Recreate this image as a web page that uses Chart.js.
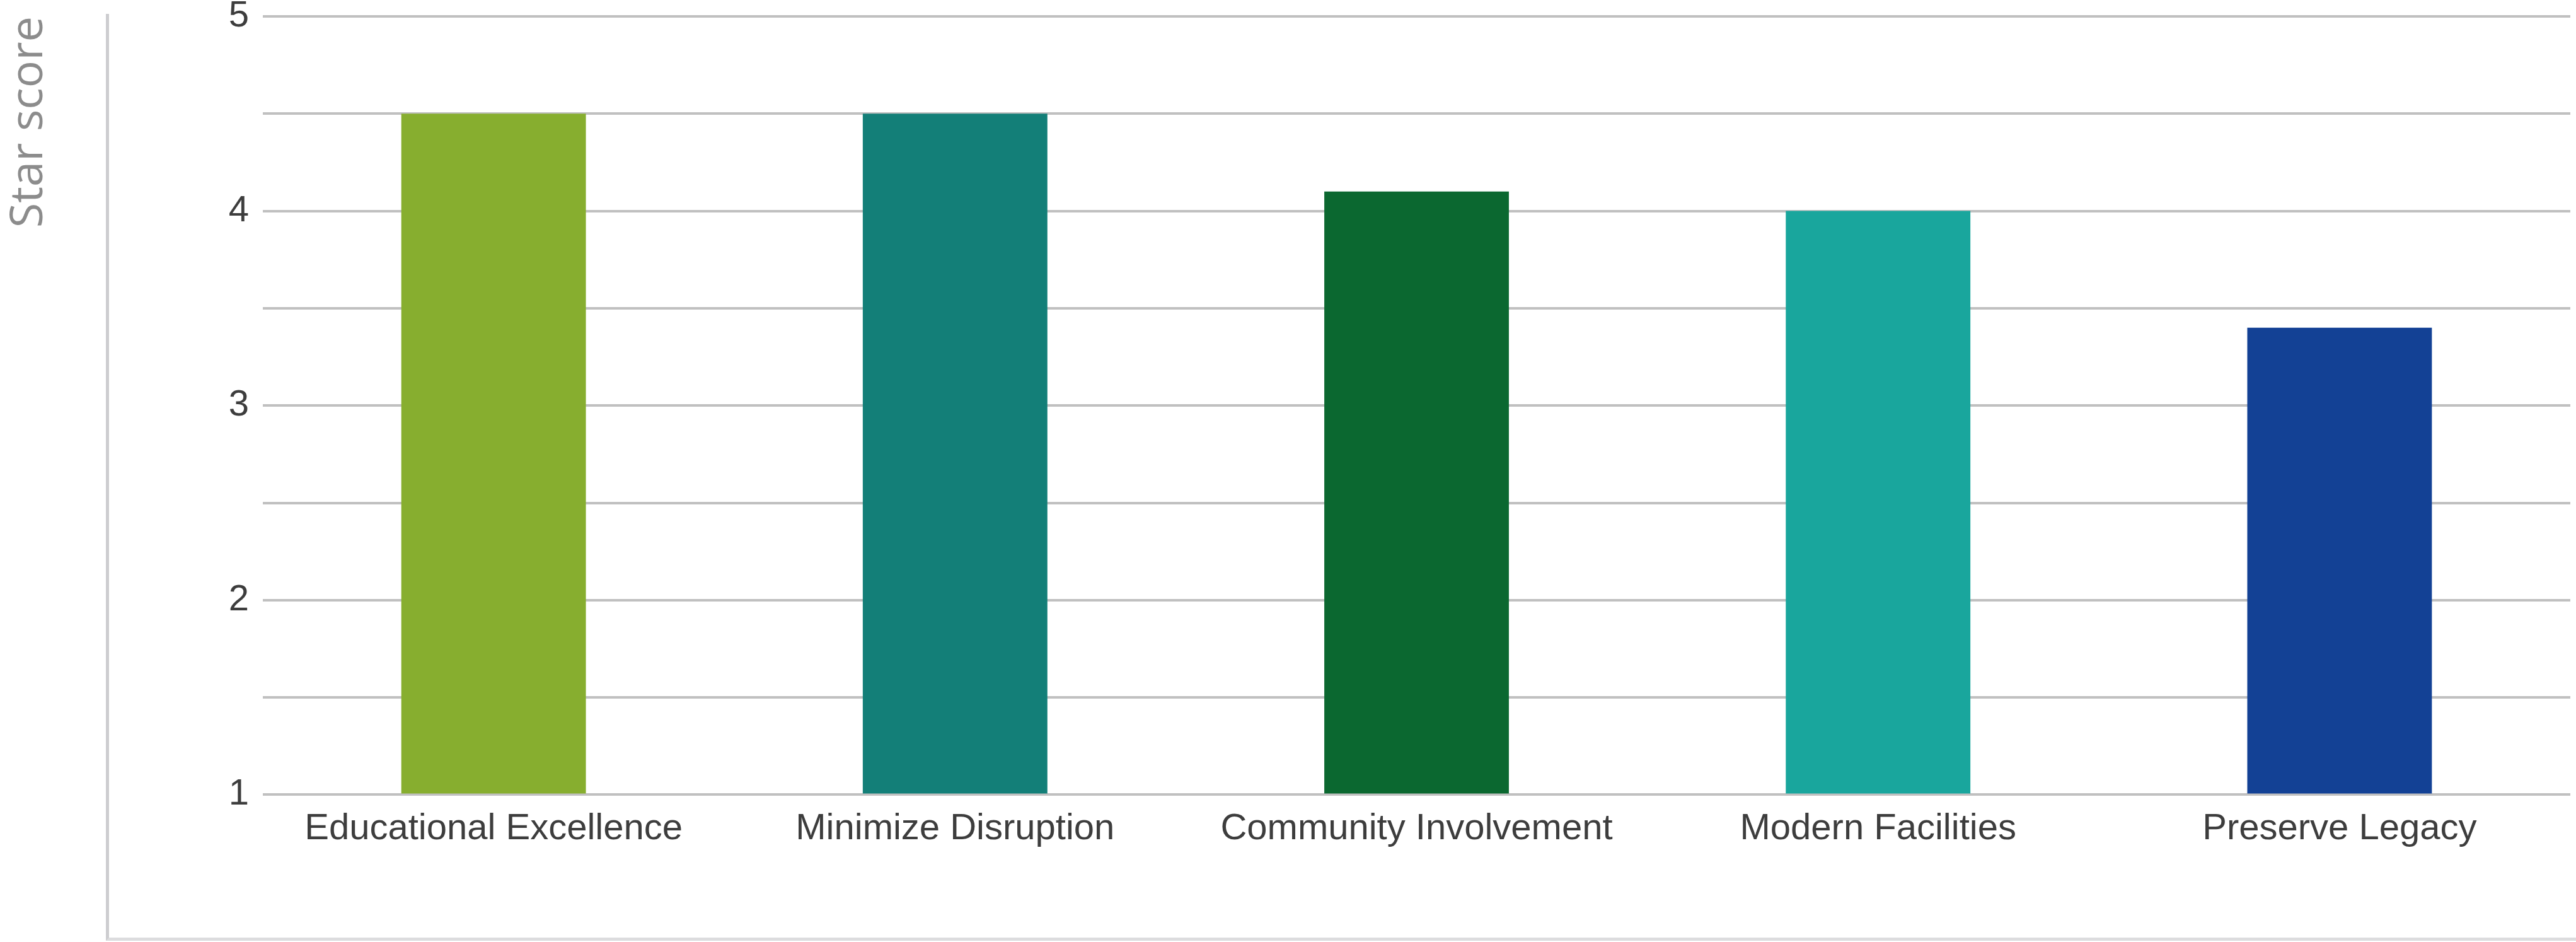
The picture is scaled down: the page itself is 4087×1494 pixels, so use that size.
<!DOCTYPE html>
<html>
<head>
<meta charset="utf-8">
<script src="https://cdn.jsdelivr.net/npm/chart.js@4/dist/chart.umd.min.js"></script>
<style>
  html, body { margin: 0; padding: 0; background: #fff; }
  #wrap { position: relative; width: 4087px; height: 1494px; overflow: hidden; }
  #frame {
    position: absolute; left: 168px; top: 22px; right: 0; bottom: 2px;
    border-left: 5px solid #cdcdd0; border-bottom: 5px solid #dcdcde;
  }
  #chart { position: absolute; left: 0; top: 0; }
</style>
</head>
<body>
<div id="wrap">
  <div id="frame"></div>
  <canvas id="chart" width="4087" height="1494"></canvas>
</div>
<script>
const categories = [
  'Educational Excellence',
  'Minimize Disruption',
  'Community Involvement',
  'Modern Facilities',
  'Preserve Legacy'
];
const scores = [4.5, 4.5, 4.1, 4.0, 3.4];
const barColors = ['#87ae2f', '#137f78', '#0b6830', '#19a69d', '#134195'];
const yTickLabels = [1, 2, 3, 4, 5];
const yTitle = 'Star score';

const ctx = document.getElementById('chart').getContext('2d');

new Chart(ctx, {
  type: 'bar',
  data: {
    labels: categories,
    datasets: [{
      data: scores,
      base: 1,
      backgroundColor: barColors,
      borderWidth: 0,
      categoryPercentage: 1,
      barPercentage: 0.4
    }]
  },
  options: {
    responsive: false,
    animation: false,
    devicePixelRatio: 1,
    layout: { padding: { top: 26, right: 9, bottom: 124, left: 0 } },
    plugins: {
      legend: { display: false },
      tooltip: { enabled: false }
    },
    scales: {
      x: {
        grid: { display: false, drawTicks: false },
        border: { display: false },
        ticks: {
          color: '#3d3d3d',
          padding: 20,
          maxRotation: 0,
          font: { family: 'Liberation Sans, Arial, sans-serif', size: 58, lineHeight: 1.2 }
        }
      },
      y: {
        min: 1,
        max: 5,
        afterFit(scale) { scale.width = 417; },
        grid: { color: '#c0c0c0', lineWidth: 4, drawTicks: false },
        border: { display: false },
        ticks: {
          stepSize: 0.5,
          color: '#3d3d3d',
          padding: 22,
          // tiny line height so the top label does not push the plot area down
          font: { family: 'Liberation Sans, Arial, sans-serif', size: 58, lineHeight: 0.05 },
          callback: value => yTickLabels.includes(value) ? String(value) : ''
        },
        title: {
          display: true,
          text: yTitle,
          align: 'end',
          color: '#8c8c8c',
          padding: { top: 10, bottom: 0 },
          font: { family: 'Open Sans, sans-serif', size: 72, lineHeight: 1 }
        }
      }
    }
  }
});
</script>
</body>
</html>
